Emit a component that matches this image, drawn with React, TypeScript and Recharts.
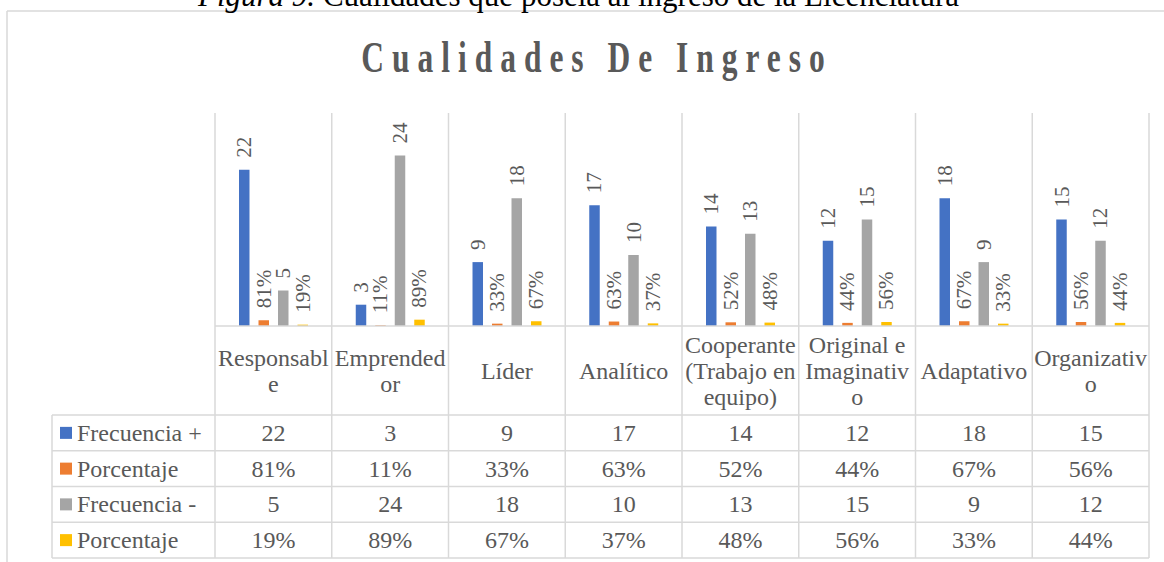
import React from 'react';
import { BarChart, Bar, XAxis, YAxis, LabelList } from 'recharts';

// ---------- data ----------
const categories = [
  'Responsable',
  'Emprendedor',
  'Líder',
  'Analítico',
  'Cooperante (Trabajo en equipo)',
  'Original e Imaginativo',
  'Adaptativo',
  'Organizativo',
];
const frecuenciaPos = [22, 3, 9, 17, 14, 12, 18, 15];
const porcentajePos = [0.81, 0.11, 0.33, 0.63, 0.52, 0.44, 0.67, 0.56];
const frecuenciaNeg = [5, 24, 18, 10, 13, 15, 9, 12];
const porcentajeNeg = [0.19, 0.89, 0.67, 0.37, 0.48, 0.56, 0.33, 0.44];
const yDomain = [0, 30];

const seriesNames = ['Frecuencia +', 'Porcentaje', 'Frecuencia -', 'Porcentaje'];
const seriesKeys = ['fp', 'pp', 'fn', 'pn'];
const seriesValues = [frecuenciaPos, porcentajePos, frecuenciaNeg, porcentajeNeg];
const seriesIsPercent = [false, true, false, true];
const seriesColors = ['#4472C4', '#ED7D31', '#A5A5A5', '#FFC000'];

const chartTitle = 'Cualidades De Ingreso';
const captionItalic = 'Figura 9.';
const captionText = ' Cualidades que poseía al ingreso de la Licenciatura';

const data = categories.map((name, i) => {
  const row: Record<string, any> = { name };
  seriesKeys.forEach((k, s) => (row[k] = seriesValues[s][i]));
  return row;
});

// ---------- layout ----------
const W = 1164;
const H = 562;
const FONT = "'Liberation Serif', 'Times New Roman', serif";
const TEXT = '#595959';
const GRID = '#d9d9d9';
const PLOT_LEFT = 215;
const PLOT_RIGHT = 1149;
const PLOT_TOP = 113;
const AXIS_Y = 326;
const CAT_BOTTOM = 415;
const ROW_H = 35.75;
const TABLE_LEFT = 52;
const TABLE_BOTTOM = CAT_BOTTOM + ROW_H * 4;
const CAT_FONT = 24;
const CAT_LINE_H = 26;

const fmt = (v: number, pct: boolean) => (pct ? `${Math.round(v * 100)}%` : `${v}`);

let ctx: CanvasRenderingContext2D | null = null;
function measure(t: string) {
  if (!ctx) ctx = document.createElement('canvas').getContext('2d');
  if (!ctx) return t.length * CAT_FONT * 0.45;
  ctx.font = `${CAT_FONT}px 'Liberation Serif'`;
  return ctx.measureText(t).width;
}
function wrap(text: string, maxW: number) {
  const words = text.split(' ');
  const lines: string[] = [];
  let cur = '';
  for (const w of words) {
    const test = cur ? cur + ' ' + w : w;
    if (measure(test) <= maxW) {
      cur = test;
      continue;
    }
    if (cur) lines.push(cur);
    let word = w;
    while (measure(word) > maxW) {
      let k = word.length;
      while (k > 1 && measure(word.slice(0, k)) > maxW) k--;
      lines.push(word.slice(0, k));
      word = word.slice(k);
    }
    cur = word;
  }
  if (cur) lines.push(cur);
  return lines;
}

const makeLabel = (pct: boolean) => (props: any) => {
  const vb = props.viewBox || props;
  const x = Number(vb.x ?? props.x);
  const y = Number(vb.y ?? props.y);
  const w = Number(vb.width ?? props.width);
  const cx = x + w / 2;
  const ty = y - 12;
  return (
    <text
      x={cx}
      y={ty}
      transform={`rotate(-90 ${cx} ${ty})`}
      textAnchor="start"
      dominantBaseline="central"
      fontSize={21}
      fontFamily={FONT}
      fill={TEXT}
    >
      {fmt(Number(props.value), pct)}
    </text>
  );
};

const TableTick = (props: any) => {
  const { x, payload } = props;
  const i: number = props.index ?? payload.index;
  const colW = (PLOT_RIGHT - PLOT_LEFT) / categories.length;
  const left = x - colW / 2;
  const lines = wrap(String(payload.value), colW - 1.5);
  const catCenter = (AXIS_Y + CAT_BOTTOM) / 2;
  const firstY = catCenter - ((lines.length - 1) * CAT_LINE_H) / 2;
  return (
    <g>
      <line x1={left} x2={left} y1={PLOT_TOP} y2={TABLE_BOTTOM} stroke={GRID} strokeWidth={1.5} />
      {i === categories.length - 1 && (
        <line x1={left + colW} x2={left + colW} y1={PLOT_TOP} y2={TABLE_BOTTOM} stroke={GRID} strokeWidth={1.5} />
      )}
      {lines.map((ln, k) => (
        <text
          key={k}
          x={x}
          y={firstY + k * CAT_LINE_H}
          textAnchor="middle"
          dominantBaseline="central"
          fontSize={CAT_FONT}
          fontFamily={FONT}
          fill={TEXT}
        >
          {ln}
        </text>
      ))}
      {seriesValues.map((vals, s) => (
        <text
          key={'v' + s}
          x={x}
          y={CAT_BOTTOM + ROW_H * (s + 0.5)}
          textAnchor="middle"
          dominantBaseline="central"
          fontSize={CAT_FONT}
          fontFamily={FONT}
          fill={TEXT}
        >
          {fmt(vals[i], seriesIsPercent[s])}
        </text>
      ))}
    </g>
  );
};

const TITLE_SCALE = 0.7;
const TITLE_LS = 11.4;

export default function App() {
  return (
    <div style={{ position: 'absolute', left: 0, top: 0, width: W, height: H, background: '#fff' }}>
      <BarChart
        width={W}
        height={H}
        data={data}
        margin={{ top: PLOT_TOP, left: PLOT_LEFT, right: W - PLOT_RIGHT, bottom: 36 }}
        barSize={10.5}
        barGap={9}
      >
        <XAxis
          dataKey="name"
          height={200}
          interval={0}
          tickLine={false}
          axisLine={{ stroke: GRID, strokeWidth: 1.5 }}
          tick={<TableTick />}
        />
        <YAxis hide domain={yDomain} />
        {seriesKeys.map((k, s) => (
          <Bar key={k} dataKey={k} name={seriesNames[s]} fill={seriesColors[s]} isAnimationActive={false}>
            <LabelList dataKey={k} content={makeLabel(seriesIsPercent[s])} />
          </Bar>
        ))}
      </BarChart>
      <svg
        width={W}
        height={H}
        style={{ position: 'absolute', left: 0, top: 0, pointerEvents: 'none' }}
      >
        {/* outer chart border */}
        <line x1={7} x2={W} y1={11} y2={11} stroke={GRID} strokeWidth={1.5} />
        <line x1={7} x2={7} y1={11} y2={H} stroke={GRID} strokeWidth={1.5} />
        {/* caption */}
        <text x={198} y={6} fontSize={31} fontFamily={FONT} fill="#000">
          <tspan fontStyle="italic">{captionItalic}</tspan>
          <tspan>{captionText}</tspan>
        </text>
        {/* title */}
        <text
          transform={`translate(${593 + (TITLE_LS * TITLE_SCALE) / 2} 72) scale(${TITLE_SCALE} 1)`}
          x={0}
          y={0}
          textAnchor="middle"
          fontSize={45}
          fontWeight="bold"
          fontFamily={FONT}
          fill={TEXT}
          letterSpacing={TITLE_LS}
        >
          {chartTitle}
        </text>
        {/* table horizontal lines */}
        {[0, 1, 2, 3, 4].map((k) => (
          <line
            key={k}
            x1={TABLE_LEFT}
            x2={PLOT_RIGHT}
            y1={CAT_BOTTOM + k * ROW_H}
            y2={CAT_BOTTOM + k * ROW_H}
            stroke={GRID}
            strokeWidth={1.5}
          />
        ))}
        <line x1={TABLE_LEFT} x2={TABLE_LEFT} y1={CAT_BOTTOM} y2={TABLE_BOTTOM} stroke={GRID} strokeWidth={1.5} />
        {/* legend column */}
        {seriesNames.map((n, s) => {
          const cy = CAT_BOTTOM + ROW_H * (s + 0.5);
          return (
            <g key={s}>
              <rect x={60} y={cy - 6} width={12} height={12} fill={seriesColors[s]} />
              <text x={77} y={cy} dominantBaseline="central" fontSize={CAT_FONT} fontFamily={FONT} fill={TEXT}>
                {n}
              </text>
            </g>
          );
        })}
      </svg>
    </div>
  );
}
